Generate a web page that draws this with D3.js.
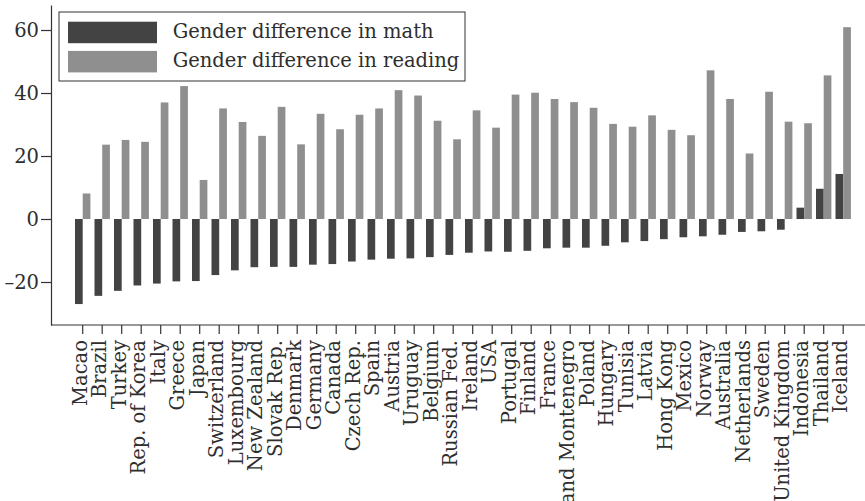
<!DOCTYPE html>
<html>
<head>
<meta charset="utf-8">
<script src="https://cdn.jsdelivr.net/npm/d3@7"></script>
<style>
  html, body { margin: 0; padding: 0; background: #fff; }
  svg { display: block; }
  text { font-family: "DejaVu Serif", serif; fill: #2e2e2e; }
</style>
</head>
<body>
<svg id="chart" width="865" height="501"></svg>
<script>
const countries = ["Macao", "Brazil", "Turkey", "Rep. of Korea", "Italy", "Greece", "Japan", "Switzerland", "Luxembourg", "New Zealand", "Slovak Rep.", "Denmark", "Germany", "Canada", "Czech Rep.", "Spain", "Austria", "Uruguay", "Belgium", "Russian Fed.", "Ireland", "USA", "Portugal", "Finland", "France", "Serbia and Montenegro", "Poland", "Hungary", "Tunisia", "Latvia", "Hong Kong", "Mexico", "Norway", "Australia", "Netherlands", "Sweden", "United Kingdom", "Indonesia", "Thailand", "Iceland"];
const mathDiff = [-27.0, -24.4, -22.8, -21.1, -20.5, -19.8, -19.7, -17.8, -16.3, -15.3, -15.2, -15.2, -14.5, -14.3, -13.5, -12.9, -12.6, -12.5, -12.1, -11.4, -10.7, -10.3, -10.4, -10.1, -9.3, -9.1, -9.1, -8.5, -7.4, -7.0, -6.4, -5.8, -5.5, -5.0, -4.1, -3.9, -3.4, 3.6, 9.6, 14.3];
const readingDiff = [8.1, 23.6, 25.1, 24.5, 37.0, 42.2, 12.4, 35.1, 30.8, 26.4, 35.6, 23.7, 33.4, 28.5, 33.1, 35.1, 40.9, 39.2, 31.2, 25.3, 34.5, 29.0, 39.5, 40.1, 38.1, 37.1, 35.3, 30.2, 29.3, 32.9, 28.3, 26.6, 47.2, 38.1, 20.8, 40.4, 30.9, 30.4, 45.6, 60.9];
const yTicks = [-20, 0, 20, 40, 60];
const yTickLabels = ["\u201320", "0", "20", "40", "60"];
const seriesKeys = ["math", "reading"];
const seriesLabels = ["Gender difference in math", "Gender difference in reading"];

const colors = { math: "#434343", reading: "#8f8f8f" };
const svg = d3.select("#chart");
const fontSize = 19.5;

const x = d3.scaleBand().domain(countries).range([72.95, 852.95]).paddingInner(0.21).paddingOuter(0.105);
const xs = d3.scaleBand().domain(seriesKeys).range([0, x.bandwidth()]).padding(0);
const y = d3.scaleLinear().domain([-33.65, 67.94]).range([325, 5]);

const rows = countries.map((c, i) => ({ country: c, math: mathDiff[i], reading: readingDiff[i] }));

// bars
const g = svg.append("g");
const groups = g.selectAll("g.grp").data(rows).join("g")
  .attr("transform", d => `translate(${x(d.country)},0)`);
groups.selectAll("rect").data(d => seriesKeys.map(k => ({ key: k, value: d[k] }))).join("rect")
  .attr("x", d => xs(d.key))
  .attr("width", xs.bandwidth())
  .attr("y", d => y(Math.max(0, d.value)))
  .attr("height", d => Math.abs(y(d.value) - y(0)))
  .attr("fill", d => colors[d.key]);

// y axis
const yAxis = svg.append("g").attr("transform", "translate(51,0)")
  .call(d3.axisLeft(y).tickValues(yTicks).tickFormat((d, i) => yTickLabels[i])
    .tickSize(10).tickSizeOuter(0).tickPadding(2));
yAxis.selectAll("text").style("font-size", fontSize + "px").style("font-family", "DejaVu Serif").attr("fill", "#2e2e2e");
yAxis.selectAll("line, path").attr("stroke", "#333").attr("stroke-width", 1.2);

// x axis
const xAxis = svg.append("g").attr("transform", "translate(0,325)")
  .call(d3.axisBottom(x).tickSize(9).tickSizeOuter(0));
xAxis.select(".domain").remove();
xAxis.append("line").attr("x1", 51).attr("x2", 865).attr("y1", 0).attr("y2", 0)
  .attr("stroke", "#333").attr("stroke-width", 1.2);
xAxis.selectAll("line").attr("stroke", "#333").attr("stroke-width", 1.2);
xAxis.selectAll(".tick text")
  .attr("transform", "rotate(-90)")
  .attr("x", -15).attr("y", 0).attr("dy", "0.2em")
  .style("text-anchor", "end")
  .style("font-size", fontSize + "px").style("font-family", "DejaVu Serif").attr("fill", "#2e2e2e");

// legend
const lg = svg.append("g");
lg.append("rect").attr("x", 59).attr("y", 12).attr("width", 406).attr("height", 69)
  .attr("fill", "#fff").attr("stroke", "#333").attr("stroke-width", 1);
seriesKeys.forEach((k, i) => {
  const cy = 32.5 + i * 29.2;
  lg.append("rect").attr("x", 68).attr("y", cy - 10.8).attr("width", 89).attr("height", 21.5)
    .attr("fill", colors[k]);
  lg.append("text").attr("x", 172.7).attr("y", cy + 5.5).text(seriesLabels[i])
    .style("font-size", fontSize + "px");
});
</script>
</body>
</html>
